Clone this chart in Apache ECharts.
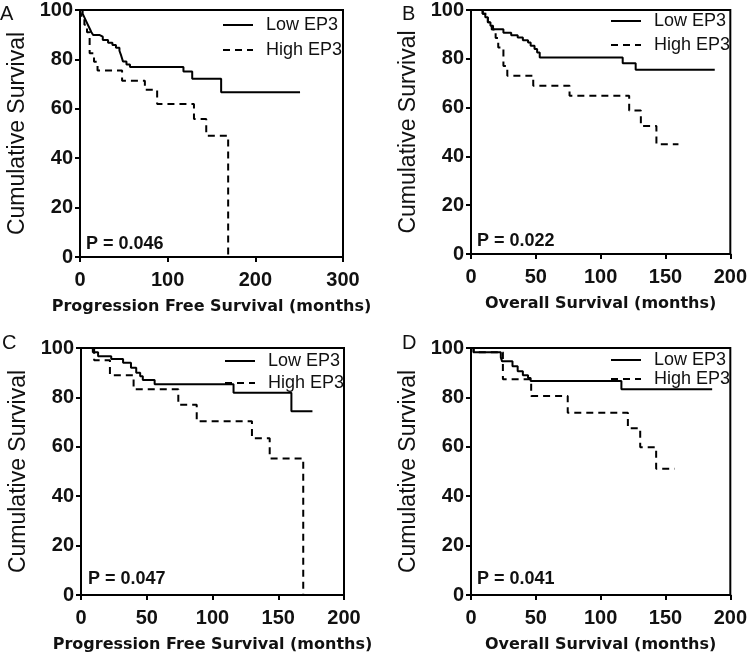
<!DOCTYPE html>
<html>
<head>
<meta charset="utf-8">
<script src="https://cdn.jsdelivr.net/npm/echarts@6/dist/echarts.min.js"></script>
<style>html,body{margin:0;padding:0;background:#fff}#c{width:750px;height:654px}</style>
</head>
<body>
<div id="c"></div>
<script>
// ---- Data ----
const panelLetters = ['A', 'B', 'C', 'D'];
const xTitles = ['Progression Free Survival (months)', 'Overall Survival (months)', 'Progression Free Survival (months)', 'Overall Survival (months)'];
const yTitle = 'Cumulative Survival';
const pValues = ['P = 0.046', 'P = 0.022', 'P = 0.047', 'P = 0.041'];
const seriesNames = ['Low EP3', 'High EP3'];
const xMax = [300, 200, 200, 200];
const xStep = [100, 50, 50, 50];
const yTicks = [0, 20, 40, 60, 80, 100];

// Panel A: progression free survival (cohort 1)
const lowA_t = [0, 3, 5, 7, 9, 11, 13, 15, 22, 26, 32, 37, 41, 45, 47, 49, 53, 57, 118, 128, 161, 251];
const lowA_s = [100, 98.5, 97, 95.5, 94, 92.5, 91, 89.9, 89.2, 87.9, 86.7, 85.8, 84.7, 83.5, 81.5, 79.2, 77.9, 76.9, 75.1, 72.2, 66.7, 66.7];
const highA_t = [0, 2, 5, 8, 11, 16, 20, 48, 74, 88, 130, 144, 169];
const highA_s = [100, 97, 94, 91, 82.5, 79, 75.5, 71.4, 67.7, 61.9, 55.9, 49.1, 0];
// Panel B: overall survival (cohort 1)
const lowB_t = [0, 9, 11, 13, 15, 17, 25, 31, 36, 40, 44, 46, 49, 51, 53, 117, 127, 188];
const lowB_s = [100, 98.5, 97, 95, 93.5, 92.1, 90.7, 89.7, 88.7, 87.6, 86.7, 85.3, 84, 82.6, 80.5, 78.2, 75.5, 75.5];
const highB_t = [0, 9, 13, 16, 19, 21, 25, 28, 48, 76, 122, 131, 143, 160];
const highB_s = [100, 98.5, 95, 92, 88.5, 84.6, 77, 73.1, 69, 64.9, 58.8, 52.5, 45, 45];
// Panel C: progression free survival (cohort 2)
const lowC_t = [0, 9, 13, 23, 32, 38, 42, 45, 47, 56, 116, 160, 176];
const lowC_s = [100, 98.3, 96.7, 95.5, 94, 92, 90, 88.6, 87, 85.3, 81.9, 74.4, 74.4];
const highC_t = [0, 10, 22, 40, 74, 88, 130, 143.5, 169];
const highC_s = [100, 95, 89, 83.3, 77, 70.3, 63.5, 55.3, 0];
// Panel D: overall survival (cohort 2)
const lowD_t = [0, 2, 23, 24, 32, 36, 40, 44, 46, 116, 186];
const lowD_s = [100, 98.3, 96.2, 94.6, 92.6, 90.6, 89, 87.9, 86.6, 83.3, 83.3];
const highD_t = [0, 2, 24.6, 46.4, 74.6, 121, 130.5, 142.8, 157];
const highD_s = [100, 98.3, 87.3, 80.6, 73.8, 67.5, 59.8, 51.1, 51.1];

const lowT = [lowA_t, lowB_t, lowC_t, lowD_t];
const lowS = [lowA_s, lowB_s, lowC_s, lowD_s];
const highT = [highA_t, highB_t, highC_t, highD_t];
const highS = [highA_s, highB_s, highC_s, highD_s];

// ---- Layout ----
const grids = [
  { left: 80, top: 10, width: 263, height: 247 },
  { left: 471, top: 9, width: 261, height: 245 },
  { left: 81, top: 348, width: 263, height: 249 },
  { left: 471, top: 348, width: 260, height: 249 }
].map(g => Object.assign(g, { show: true, borderColor: '#000', borderWidth: 2, backgroundColor: 'transparent' }));
const letterPos = [[0, 4], [402, 4], [2, 333], [402, 333]];
const pPos = [[86, 235], [477, 232], [88, 570], [477, 570]];
const legendPos = [[222, 16], [610, 12], [224, 352], [610, 351]];
const legendGap = [7, 6, 4, 1];

const TXT = '#111';
const zip = (t, s) => t.map((v, i) => [v, s[i]]);

const xAxes = [], yAxes = [], series = [], legends = [], graphics = [];
grids.forEach((g, i) => {
  xAxes.push({
    type: 'value', gridIndex: i, min: 0, max: xMax[i], interval: xStep[i],
    name: xTitles[i], nameLocation: 'middle', nameGap: 42,
    nameTextStyle: { fontFamily: 'DejaVu Sans', fontWeight: 'bold', fontSize: 16, color: TXT },
    axisLine: { show: true, lineStyle: { color: '#000', width: 2 } },
    axisTick: { show: true, length: 5, lineStyle: { color: '#000', width: 2 } },
    axisLabel: { margin: 13, fontFamily: 'Liberation Sans', fontWeight: 'bold', fontSize: 20, color: TXT },
    splitLine: { show: false }
  });
  yAxes.push({
    type: 'value', gridIndex: i, min: 0, max: 100, interval: 20,
    name: yTitle, nameLocation: 'middle', nameGap: 51,
    nameTextStyle: { fontFamily: 'Liberation Sans', fontSize: 23, color: TXT },
    axisLine: { show: true, lineStyle: { color: '#000', width: 2 } },
    axisTick: { show: true, length: 5, lineStyle: { color: '#000', width: 2 } },
    axisLabel: { margin: 7, fontFamily: 'Liberation Sans', fontWeight: 'bold', fontSize: 20, color: TXT },
    splitLine: { show: false }
  });
  series.push({
    name: seriesNames[0], type: 'line', xAxisIndex: i, yAxisIndex: i, step: 'end',
    showSymbol: false, symbol: 'none', animation: false,
    lineStyle: { color: '#000', width: 2, type: 'solid' }, itemStyle: { color: '#000' },
    data: zip(lowT[i], lowS[i])
  });
  series.push({
    name: seriesNames[1], type: 'line', xAxisIndex: i, yAxisIndex: i, step: 'end',
    showSymbol: false, symbol: 'none', animation: false,
    lineStyle: { color: '#000', width: 2, type: [7, 5] }, itemStyle: { color: '#000' },
    data: zip(highT[i], highS[i])
  });
  legends.push({
    show: true, data: seriesNames, orient: 'vertical', left: legendPos[i][0], top: legendPos[i][1],
    padding: 0, itemWidth: 30, itemHeight: 14, itemGap: legendGap[i],
    itemStyle: { color: 'rgba(0,0,0,0)', borderColor: 'rgba(0,0,0,0)', borderWidth: 0 },
    textStyle: { fontFamily: 'Liberation Sans', fontSize: 18, color: TXT, padding: [0, 0, 0, 8] }
  });
  graphics.push({
    type: 'text', left: letterPos[i][0], top: letterPos[i][1],
    style: { text: panelLetters[i], font: '20px "Liberation Sans"', fill: TXT }
  });
  graphics.push({
    type: 'text', left: pPos[i][0], top: pPos[i][1],
    style: { text: pValues[i], font: 'bold 18px "Liberation Sans"', fill: TXT }
  });
});

const chart = echarts.init(document.getElementById('c'), null, { renderer: 'canvas' });
chart.setOption({
  animation: false,
  backgroundColor: '#fff',
  grid: grids,
  xAxis: xAxes,
  yAxis: yAxes,
  legend: legends,
  series: series,
  graphic: graphics
});
</script>
</body>
</html>
